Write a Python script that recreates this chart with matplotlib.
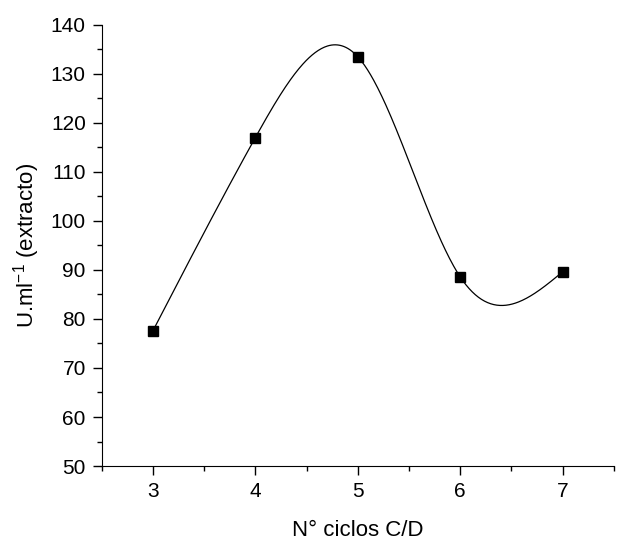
import numpy as np
import matplotlib.pyplot as plt
from matplotlib.ticker import MultipleLocator

plt.rcParams['font.family'] = ['Liberation Sans', 'DejaVu Sans']

# data
ciclos = [3, 4, 5, 6, 7]
actividad = [77.6, 117.0, 133.5, 88.6, 89.6]


def natural_spline(x, y, xs):
    x = np.asarray(x, float)
    y = np.asarray(y, float)
    n = len(x)
    h = np.diff(x)
    A = np.zeros((n, n))
    b = np.zeros(n)
    A[0, 0] = A[-1, -1] = 1
    for i in range(1, n - 1):
        A[i, i - 1] = h[i - 1]
        A[i, i] = 2 * (h[i - 1] + h[i])
        A[i, i + 1] = h[i]
        b[i] = 6 * ((y[i + 1] - y[i]) / h[i] - (y[i] - y[i - 1]) / h[i - 1])
    M = np.linalg.solve(A, b)
    out = np.empty_like(xs)
    for k, t in enumerate(xs):
        i = min(max(np.searchsorted(x, t) - 1, 0), n - 2)
        a, c = x[i], x[i + 1]
        out[k] = (M[i] * (c - t) ** 3 / (6 * h[i]) + M[i + 1] * (t - a) ** 3 / (6 * h[i])
                  + (y[i] / h[i] - M[i] * h[i] / 6) * (c - t)
                  + (y[i + 1] / h[i] - M[i + 1] * h[i] / 6) * (t - a))
    return out


fig = plt.figure(figsize=(6.36, 5.4), dpi=100)
ax = fig.add_axes([0.160, 0.137, 0.805, 0.817])

xs = np.linspace(ciclos[0], ciclos[-1], 400)
ax.plot(xs, natural_spline(ciclos, actividad, xs), color='black', lw=0.9)
ax.plot(ciclos, actividad, 's', color='black', markersize=7)

ax.set_xlim(2.5, 7.5)
ax.set_ylim(50, 140)
ax.xaxis.set_major_locator(MultipleLocator(1))
ax.xaxis.set_minor_locator(MultipleLocator(0.5))
ax.yaxis.set_major_locator(MultipleLocator(10))
ax.yaxis.set_minor_locator(MultipleLocator(5))
ax.spines['top'].set_visible(False)
ax.spines['right'].set_visible(False)
ax.tick_params(which='both', direction='out', width=1, labelsize=15, pad=5)
ax.tick_params(which='major', length=6.5)
ax.tick_params(which='minor', length=3.5)

ax.set_xlabel('N° ciclos C/D', fontsize=16, labelpad=14)
ax.set_ylabel('U.ml$^{\\mathregular{-1}}$ (extracto)', fontsize=16, labelpad=6)

fig.savefig('out.png', dpi=100)
